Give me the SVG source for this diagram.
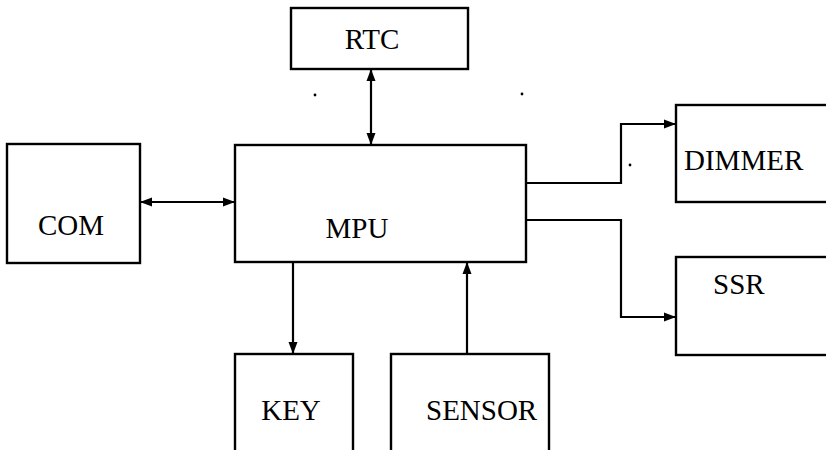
<svg xmlns="http://www.w3.org/2000/svg" width="826" height="450" viewBox="0 0 826 450">
<style>
.box{fill:#fff;stroke:#000;stroke-width:2.4}
.t{font-family:"Liberation Serif","DejaVu Serif","Times New Roman",serif;font-size:29px;fill:#000}
.c{fill:none;stroke:#000;stroke-width:2.2}
</style>
<defs>
<marker id="ah" viewBox="0 0 12 10" refX="12" refY="5" markerWidth="12" markerHeight="10" markerUnits="userSpaceOnUse" orient="auto-start-reverse">
<path d="M0,0.5 L12,5 L0,9.5 z" fill="#000"/>
</marker>
</defs>
<rect width="826" height="450" fill="#fff"/>
<g id="rtc"><rect class="box" x="291" y="8" width="177" height="61"/><text class="t" x="372" y="49" text-anchor="middle">RTC</text></g>
<g id="mpu"><rect class="box" x="235" y="145" width="291" height="117"/><text class="t" x="357" y="238" text-anchor="middle">MPU</text></g>
<g id="com"><rect class="box" x="7" y="144" width="133" height="119"/><text class="t" x="71" y="235" text-anchor="middle">COM</text></g>
<g id="dimmer"><rect class="box" x="676" y="105" width="160" height="97"/><text class="t" x="684" y="170">DIMMER</text></g>
<g id="ssr"><rect class="box" x="676" y="257" width="160" height="98"/><text class="t" x="713" y="294">SSR</text></g>
<g id="key"><rect class="box" x="235" y="354" width="118" height="110"/><text class="t" x="291" y="420" text-anchor="middle">KEY</text></g>
<g id="sensor"><rect class="box" x="391" y="354" width="158" height="110"/><text class="t" x="426" y="420">SENSOR</text></g>
<g id="connectors">
<line class="c" x1="371" y1="69" x2="371" y2="145" marker-start="url(#ah)" marker-end="url(#ah)"/>
<line class="c" x1="140" y1="202" x2="235" y2="202" marker-start="url(#ah)" marker-end="url(#ah)"/>
<polyline class="c" points="526,183 621,183 621,124 676,124" marker-end="url(#ah)"/>
<polyline class="c" points="526,220 621,220 621,317 676,317" marker-end="url(#ah)"/>
<line class="c" x1="293" y1="262" x2="293" y2="354" marker-end="url(#ah)"/>
<line class="c" x1="467" y1="354" x2="467" y2="262" marker-end="url(#ah)"/>
</g>
<g id="dots" fill="#000"><circle cx="315" cy="95" r="1.4"/><circle cx="522" cy="94" r="1.4"/><circle cx="630" cy="165" r="1.4"/></g>
</svg>
